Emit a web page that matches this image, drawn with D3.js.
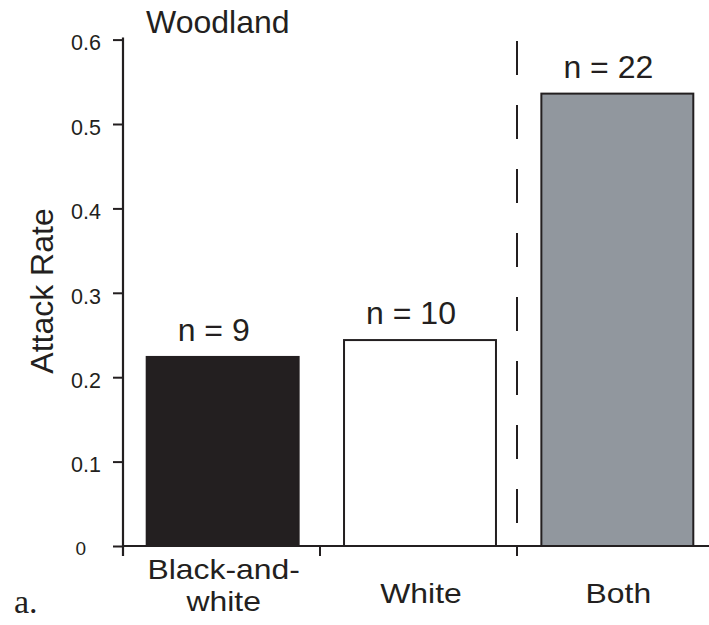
<!DOCTYPE html>
<html>
<head>
<meta charset="utf-8">
<script src="https://cdn.jsdelivr.net/npm/d3@7"></script>
<style>
  html, body { margin: 0; padding: 0; background: #fff; }
  svg text { font-family: "Liberation Sans", Arial, Helvetica, sans-serif; fill: #231f20; }
</style>
</head>
<body>
<svg id="chart" width="709" height="625"></svg>
<script>
// Attack rate per prey colour group, woodland habitat
const categories = ["Black-and-white", "White", "Both"];
const categoryLines = [["Black-and-", "white"], ["White"], ["Both"]];
const attackRates = [0.224, 0.244, 0.536];
const sampleSizes = [9, 10, 22];
const yTicks = [0, 0.1, 0.2, 0.3, 0.4, 0.5, 0.6];
const barFills = ["#231f20", "#ffffff", "#91979e"];

const ink = "#231f20";
const svg = d3.select("#chart");

const y = d3.scaleLinear().domain([0, 0.6]).range([546, 39.6]);

// category slots (ticks sit on slot boundaries) and the bars inside them
const slot = d3.scaleBand().domain(categories).range([123, 714]).padding(0);
const bar = d3.scaleBand().domain(categories).range([124, 716])
  .paddingInner(0.23).paddingOuter(0.115);

// bars
svg.selectAll("rect.bar")
  .data(categories)
  .join("rect")
  .attr("class", "bar")
  .attr("x", d => bar(d))
  .attr("width", bar.bandwidth())
  .attr("y", (d, i) => y(attackRates[i]))
  .attr("height", (d, i) => y(0) - y(attackRates[i]))
  .attr("fill", (d, i) => barFills[i])
  .attr("stroke", ink)
  .attr("stroke-width", 2);

// y axis
const yAxis = d3.axisLeft(y)
  .tickValues(yTicks)
  .tickSizeInner(10)
  .tickSizeOuter(0)
  .tickPadding(12)
  .tickFormat(d => d === 0 ? "0" : d3.format(".1f")(d));

const gy = svg.append("g").attr("transform", "translate(123,0)").call(yAxis);
gy.select(".domain").remove();
gy.selectAll(".tick line").attr("stroke", ink).attr("stroke-width", 2);
gy.selectAll(".tick text")
  .attr("dy", "0.48em")
  .style("font-size", "21.5px")
  .style("font-family", "'Liberation Sans', Arial, sans-serif")
  .attr("fill", ink);
gy.selectAll(".tick text").filter(d => d === 0)
  .attr("x", -37)
  .attr("dy", "0.45em")
  .style("font-size", "19px");

// axis lines
svg.append("line")
  .attr("x1", 123).attr("x2", 123)
  .attr("y1", y(0.6) - 2).attr("y2", y(0) + 10)
  .attr("stroke", ink).attr("stroke-width", 2.2);

svg.append("line")
  .attr("x1", 122).attr("x2", 709)
  .attr("y1", y(0)).attr("y2", y(0))
  .attr("stroke", ink).attr("stroke-width", 2.2);

// x ticks on the slot boundaries
const boundaries = categories.slice(1).map(c => slot(c));
svg.selectAll("line.xtick")
  .data(boundaries)
  .join("line")
  .attr("class", "xtick")
  .attr("x1", d => d).attr("x2", d => d)
  .attr("y1", y(0)).attr("y2", y(0) + 10)
  .attr("stroke", ink).attr("stroke-width", 2);

// dashed separator before the pooled group
svg.append("line")
  .attr("x1", slot("Both")).attr("x2", slot("Both"))
  .attr("y1", 41).attr("y2", 523)
  .attr("stroke", ink).attr("stroke-width", 2)
  .attr("stroke-dasharray", "34,30");

// sample size labels
svg.selectAll("text.n")
  .data(categories)
  .join("text")
  .attr("class", "n")
  .attr("x", d => bar(d) + bar.bandwidth() / 2 - 9)
  .attr("y", (d, i) => y(attackRates[i]) - 16)
  .attr("text-anchor", "middle")
  .style("font-size", "32px")
  .text((d, i) => `n = ${sampleSizes[i]}`);

// category labels: slightly wide lettering, wrapped onto two lines where needed
svg.selectAll("g.cat")
  .data(categories)
  .join("g")
  .attr("class", "cat")
  .attr("transform", d => `translate(${bar(d) + bar.bandwidth() / 2 + 1},0) scale(1.12,1)`)
  .each(function (d, i) {
    const lines = categoryLines[i];
    const first = lines.length === 1 ? 603 : 579;
    d3.select(this).selectAll("text")
      .data(lines)
      .join("text")
      .attr("x", 0)
      .attr("y", (t, j) => first + j * 32)
      .attr("text-anchor", "middle")
      .style("font-size", "28.5px")
      .text(t => t);
  });

// titles
svg.append("text")
  .attr("x", 146)
  .attr("y", 32.5)
  .style("font-size", "32px")
  .text("Woodland");

svg.append("text")
  .attr("transform", "translate(53,291) rotate(-90)")
  .attr("text-anchor", "middle")
  .style("font-size", "32px")
  .text("Attack Rate");

svg.append("text")
  .attr("x", 14)
  .attr("y", 613)
  .style("font-family", "'Liberation Serif', 'Times New Roman', serif")
  .style("font-size", "34px")
  .text("a.");
</script>
</body>
</html>
